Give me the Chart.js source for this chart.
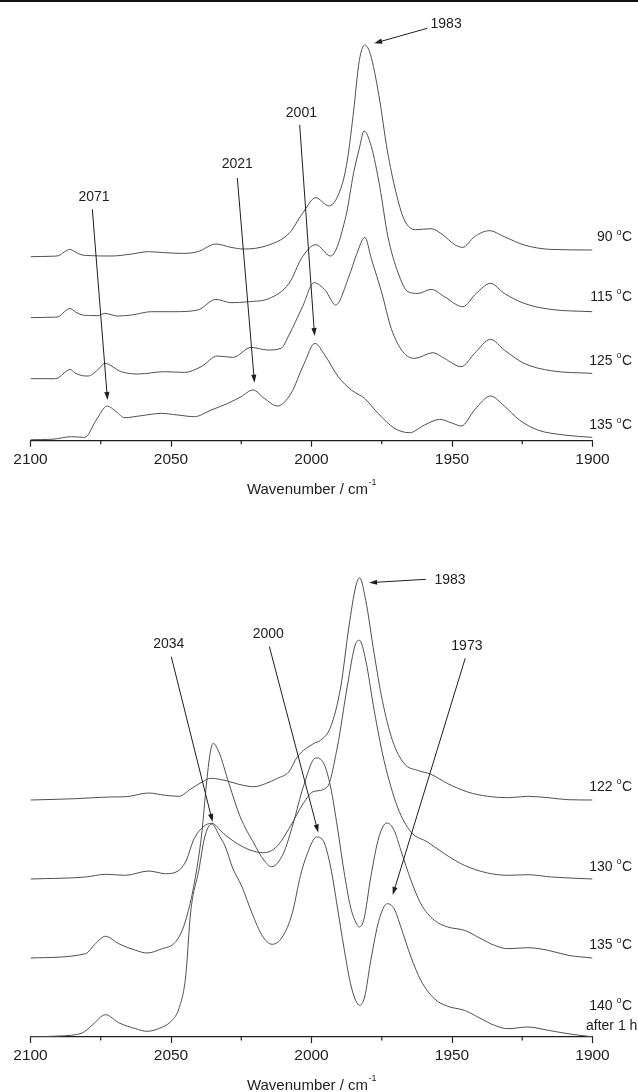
<!DOCTYPE html>
<html>
<head>
<meta charset="utf-8">
<script src="https://cdn.jsdelivr.net/npm/chart.js@4.4.1/dist/chart.umd.min.js"></script>
<style>
  html, body { margin: 0; padding: 0; background: #fff; }
  #page { position: relative; width: 638px; height: 1092px; overflow: hidden; background: #fff; }
  #rule { position: absolute; left: 0; top: 0; width: 638px; height: 2px; background: #111; }
  canvas { position: absolute; left: 0; }
</style>
</head>
<body>
<div id="page">
  <div id="rule"></div>
  <canvas id="upper" width="638" height="546" style="top:0"></canvas>
  <canvas id="lower" width="638" height="546" style="top:546px"></canvas>
</div>
<script>
const FONT = '"Liberation Sans", Arial, Helvetica, sans-serif';
const INK = '#1e1e1e';
const TRACE = '#505050';

// x axis
const xTicks = [2100, 2050, 2000, 1950, 1900];
const minorTicks = [2075, 2025, 1975, 1925];

// ---- upper panel: spectra at 90, 115, 125, 135 C (arbitrary absorbance units)
const upperTemps = ['90', '115', '125', '135'];
const upperOffsets = [184, 123, 62, 1];

const wn90 = [2100, 2092, 2090, 2088, 2086, 2084, 2082, 2080, 2071, 2064, 2058, 2052, 2046, 2040.5, 2034, 2028.6, 2024, 2016, 2008, 2003.2, 1998.5, 1993.8, 1989, 1987, 1985, 1983, 1981, 1979, 1976, 1973, 1970, 1967, 1963, 1957.4, 1953.8, 1949, 1946.2, 1942, 1936.7, 1931.4, 1924.3, 1914.8, 1900];
const abs90 = [0, 0.5, 1, 4.6, 7.3, 4.6, 2, 1.2, 0.7, 2.7, 5, 4, 3.3, 5, 12.7, 9.3, 7.7, 11, 23.3, 43.3, 59, 50.7, 73.3, 101, 146, 196, 211.7, 202, 161, 106, 65, 37, 27, 28, 23, 12, 9.3, 20, 26, 20, 11.7, 7.3, 6.7];

const wn115 = [2100, 2092, 2090, 2088, 2086, 2084, 2082, 2079, 2076, 2073.6, 2069, 2064, 2057, 2049, 2040.5, 2034, 2028.6, 2022.5, 2015, 2008, 2003.2, 1998.5, 1993.2, 1987.8, 1985, 1983, 1981.3, 1978.7, 1975.7, 1972.8, 1969.2, 1965.7, 1962.1, 1957.4, 1952.7, 1946.2, 1941.4, 1936.3, 1931.4, 1924.3, 1914.8, 1900];
const abs115 = [0, 0.5, 1, 5.8, 9.3, 5.8, 3, 2.2, 2, 4.3, 1.7, 2.7, 6, 6, 7.7, 18.3, 15, 16, 19.3, 34.3, 61, 73, 61.7, 101, 145, 169, 186.7, 171, 131, 81, 45, 26, 24.3, 28.3, 21, 11, 24.3, 34.3, 24.3, 14.3, 8.3, 6];

const wn125 = [2100, 2092, 2090, 2088, 2086, 2084, 2081.5, 2079.5, 2076, 2073.6, 2067.7, 2061.8, 2052.3, 2045.2, 2039.3, 2033.4, 2028, 2021.5, 2015.6, 2010.9, 2008, 2003.2, 1999.1, 1995, 1991.4, 1986.7, 1984, 1981, 1978.7, 1975, 1971.6, 1967.5, 1963.3, 1956.8, 1952.7, 1946.7, 1942, 1936.3, 1931.4, 1924.3, 1914.8, 1900];
const abs125 = [0, 0, 1, 5.8, 9.3, 5.5, 3, 2.7, 9, 15.3, 7, 4.7, 7, 6.3, 12, 22.7, 21.3, 31.3, 28.7, 30.3, 43.7, 72, 96, 88, 73.7, 102, 124, 141.3, 120, 86, 50, 27, 20.3, 26, 20.3, 12, 25.3, 39.3, 28.7, 15.3, 8, 5.3];

const wn135 = [2100, 2092, 2085.4, 2080.7, 2076.6, 2072.7, 2069.5, 2066.5, 2060.6, 2053.5, 2047.6, 2041.7, 2035.7, 2029.8, 2025.1, 2020.8, 2016.8, 2012.1, 2007.3, 2002.6, 1998.8, 1995.3, 1990.5, 1985.8, 1981.1, 1976.3, 1970.4, 1965.1, 1959.8, 1954.4, 1949.7, 1946.7, 1942, 1936.3, 1931.4, 1926, 1919.5, 1910.1, 1900];
const abs135 = [0, 0.5, 3, 2.3, 19.7, 33.7, 28, 22, 24, 26.3, 24.7, 23, 29.7, 36.3, 43, 49.7, 41.3, 33.7, 46.3, 76.3, 96.3, 84.7, 63, 49.7, 41.3, 26.3, 11.3, 7, 14.7, 20.3, 16.3, 13.7, 29.7, 43.7, 33.7, 19.7, 9.7, 4.7, 2.3];

const upperLabelLevels = [203.4, 144, 80, 15.2];
const upperNotes = [
  { text: '1983', label: [1952.1, 416.4], tail: [1958.8, 412.4], head: [1977.7, 397.4] },
  { text: '2001', label: [2003.6, 327.7], tail: [2004.2, 315.7], head: [1998.9, 104.7] },
  { text: '2021', label: [2026.4, 276.7], tail: [2026.4, 262.7], head: [2020.3, 58] },
  { text: '2071', label: [2077.4, 244], tail: [2078, 231.4], head: [2072.6, 40.7] }
];

// ---- lower panel: spectra at 122, 130, 135, 140 C
const lowerTemps = ['122', '130', '135', '140'];
const lowerOffsets = [237, 158, 79, 0];

const wn122 = [2100, 2084, 2072, 2066, 2058, 2052, 2047.2, 2043, 2038.9, 2035.9, 2030, 2025.9, 2020.5, 2016.4, 2012.1, 2008.1, 2005, 1999.1, 1996.8, 1993.2, 1989.6, 1986.7, 1984.3, 1982.9, 1980.7, 1977.7, 1974.8, 1971.2, 1967, 1962.3, 1957.5, 1951.5, 1944.4, 1937.3, 1930.1, 1923, 1915.8, 1908.7, 1900];
const abs122 = [0, 1.3, 3, 3.3, 7, 4.7, 3.7, 11, 18, 21.7, 19, 15.7, 13.3, 16.3, 21.7, 28, 43.3, 56.7, 59.7, 73, 113, 173, 213, 222.3, 199.7, 146.3, 99.7, 59.7, 36.3, 29.7, 25.7, 16.3, 8, 3.7, 2.3, 3.7, 2.3, 0.3, 0];

const wn130 = [2100, 2080.4, 2073.3, 2066.2, 2057.9, 2052, 2047.5, 2044.5, 2042, 2038.5, 2035.5, 2031.4, 2026.6, 2021.9, 2017.1, 2012.4, 2007.6, 2002.9, 1999.4, 1994.4, 1990.8, 1987.3, 1984.3, 1982.9, 1980.7, 1977.7, 1974.2, 1969.4, 1964.6, 1958.7, 1952.7, 1945.6, 1937.3, 1930.1, 1923, 1914.6, 1900];
const abs130 = [0, 2, 4.7, 3.7, 8, 5.3, 8, 19, 39, 52.3, 55.7, 45.7, 35.7, 29, 26.3, 32.3, 52.3, 75.7, 87.3, 92, 132, 192, 235.3, 238.7, 218.7, 168.7, 118.7, 72, 47, 37, 25.3, 13.7, 6, 3.7, 4.3, 2, 0];

const wn135b = [2100, 2080.4, 2076.9, 2073.3, 2068.6, 2062.6, 2058.5, 2053.1, 2049, 2046, 2043.5, 2041, 2039, 2037.5, 2036, 2035, 2033, 2029.4, 2025.4, 2020.5, 2017, 2014.2, 2010, 2006.5, 2002.9, 1998.5, 1995.6, 1993.2, 1990.8, 1988.5, 1986.1, 1984.3, 1982.9, 1981.3, 1978.9, 1976, 1973.2, 1970.6, 1968.2, 1964.6, 1961.1, 1956.3, 1951.5, 1945.6, 1940.8, 1934.9, 1930.1, 1923, 1915.8, 1908.7, 1900];
const abs135b = [0, 4.3, 14.3, 21.7, 14.3, 7.7, 5, 9.3, 14.3, 27.7, 51, 86, 126, 171, 206, 214.7, 206.3, 174.7, 141.3, 114.7, 98, 91.3, 104.7, 134.7, 171.3, 200, 194.3, 171, 131, 87.7, 51, 36, 31, 39.3, 81, 121, 135, 127.7, 107.7, 77.7, 54.3, 37.7, 31, 27.7, 21, 12.7, 9.3, 10.3, 7.7, 2.7, 0];

const wn140 = [2100, 2090, 2081.6, 2078.1, 2073.3, 2068.6, 2062.6, 2058.5, 2053.1, 2049.6, 2047.2, 2044.8, 2043, 2040.1, 2038, 2035.5, 2032.6, 2030.6, 2028.2, 2024.7, 2021.1, 2017.6, 2014, 2010.4, 2006.9, 2003.9, 2001.5, 1998.2, 1995.6, 1993.2, 1990.8, 1988.5, 1986.1, 1984.3, 1982.9, 1981.1, 1978.9, 1976, 1973, 1970.6, 1968.2, 1964.6, 1961.1, 1956.3, 1951.5, 1945.6, 1940.8, 1934.9, 1930.1, 1923, 1915.8, 1908.7, 1901.5, 1900];
const abs140 = [0, 1, 4, 11.7, 22.3, 14.3, 8.3, 5.7, 10, 16.7, 28.3, 60, 125, 166.7, 200, 213, 200.3, 190, 170, 150, 123.3, 101.7, 92.7, 100, 123.3, 161.7, 183.3, 200, 195, 170, 130, 90, 53.3, 36.7, 31.7, 40, 76.7, 116.7, 133.3, 128.3, 110, 80, 56.7, 38.3, 30.7, 26.7, 20, 11.7, 8.3, 10, 6.7, 3.3, 0.7, 0.3];

const lowerLabelLevels = [250.3, 170, 91.5, 31];
const lowerNotes = [
  { text: '1983', label: [1950.7, 457], tail: [1959.3, 457.7], head: [1979.5, 454.3] },
  { text: '2034', label: [2050.8, 392.8], tail: [2049.9, 380.3], head: [2035.2, 215] },
  { text: '2000', label: [2015.4, 403], tail: [2015, 390.5], head: [1997.6, 204.5] },
  { text: '1973', label: [1944.7, 391], tail: [1945.3, 378.7], head: [1971.1, 142] }
];

Chart.defaults.font.family = FONT;
Chart.defaults.color = INK;

function toPoints(wn, abs, offset) {
  return wn.map((w, i) => ({ x: w, y: abs[i] + offset }));
}

function drawArrow(ctx, x1, y1, x2, y2) {
  const a = Math.atan2(y2 - y1, x2 - x1);
  const len = 8, half = 2.6;
  ctx.beginPath();
  ctx.moveTo(x1, y1);
  ctx.lineTo(x2 - Math.cos(a) * len * 0.7, y2 - Math.sin(a) * len * 0.7);
  ctx.stroke();
  ctx.beginPath();
  ctx.moveTo(x2, y2);
  ctx.lineTo(x2 - len * Math.cos(a) + half * Math.sin(a), y2 - len * Math.sin(a) - half * Math.cos(a));
  ctx.lineTo(x2 - len * Math.cos(a) - half * Math.sin(a), y2 - len * Math.sin(a) + half * Math.cos(a));
  ctx.closePath();
  ctx.fill();
}

// "90 °C" with a raised small o, right aligned
function tempLabel(ctx, num, xRight, yMid) {
  const big = '14px ' + FONT, small = '9px ' + FONT;
  ctx.font = big;
  const w1 = ctx.measureText(num + ' ').width;
  const w3 = ctx.measureText('C').width;
  ctx.font = small;
  const w2 = ctx.measureText('o').width + 0.5;
  const x0 = xRight - (w1 + w2 + w3);
  ctx.textAlign = 'left';
  ctx.textBaseline = 'middle';
  ctx.font = big;
  ctx.fillText(num + ' ', x0, yMid);
  ctx.font = small;
  ctx.fillText('o', x0 + w1, yMid - 5);
  ctx.font = big;
  ctx.fillText('C', x0 + w1 + w2, yMid);
}

function panelDecor(panel) {
  return {
    id: 'panelDecor',
    afterDraw(chart) {
      const { ctx, chartArea: area } = chart;
      const x = chart.scales.x, y = chart.scales.y;
      ctx.save();

      // minor ticks
      ctx.strokeStyle = INK;
      ctx.lineWidth = 1.2;
      minorTicks.forEach(v => {
        const px = x.getPixelForValue(v);
        ctx.beginPath();
        ctx.moveTo(px, area.bottom);
        ctx.lineTo(px, area.bottom + 3.5);
        ctx.stroke();
      });

      // axis title with superscript -1
      const main = 'Wavenumber / cm', sup = '-1';
      ctx.font = '15px ' + FONT;
      const wMain = ctx.measureText(main).width;
      ctx.font = '9px ' + FONT;
      const wSup = ctx.measureText(sup).width;
      const tx = (area.left + area.right) / 2 - (wMain + wSup) / 2;
      const ty = area.bottom + 49;
      ctx.fillStyle = INK;
      ctx.textAlign = 'left';
      ctx.textBaseline = 'middle';
      ctx.font = '15px ' + FONT;
      ctx.fillText(main, tx, ty);
      ctx.font = '9px ' + FONT;
      ctx.fillText(sup, tx + wMain + 0.5, ty - 7);

      // peak annotations
      ctx.strokeStyle = INK;
      ctx.fillStyle = INK;
      ctx.lineWidth = 1;
      panel.notes.forEach(n => {
        ctx.font = '14px ' + FONT;
        ctx.textAlign = 'center';
        ctx.textBaseline = 'middle';
        ctx.fillText(n.text, x.getPixelForValue(n.label[0]), y.getPixelForValue(n.label[1]));
        drawArrow(ctx,
          x.getPixelForValue(n.tail[0]), y.getPixelForValue(n.tail[1]),
          x.getPixelForValue(n.head[0]), y.getPixelForValue(n.head[1]));
      });

      // temperature labels
      panel.temps.forEach((t, i) => tempLabel(ctx, t, 632, y.getPixelForValue(panel.levels[i])));
      if (panel.note) {
        ctx.font = '14px ' + FONT;
        ctx.textAlign = 'left';
        ctx.textBaseline = 'middle';
        ctx.fillText(panel.note.text, 586, y.getPixelForValue(panel.note.level));
      }
      ctx.restore();
    }
  };
}

function makePanel(canvasId, panel) {
  const canvasEl = document.getElementById(canvasId);
  const datasets = panel.series.map((s, i) => ({
    label: panel.temps[i] + ' °C',
    data: toPoints(s[0], s[1], panel.offsets[i]),
    borderColor: TRACE,
    borderWidth: 1,
    pointRadius: 0,
    fill: false,
    cubicInterpolationMode: 'monotone'
  }));

  return new Chart(canvasEl.getContext('2d'), {
    type: 'line',
    data: { datasets },
    options: {
      responsive: false,
      animation: false,
      devicePixelRatio: 1,
      layout: { padding: { left: 30.5, right: 45.5, top: 0, bottom: panel.padBottom } },
      plugins: { legend: { display: false }, tooltip: { enabled: false } },
      scales: {
        x: {
          type: 'linear',
          min: 1900,
          max: 2100,
          reverse: true,
          afterFit: (scale) => { scale.height = 30; },
          afterBuildTicks: (scale) => { scale.ticks = xTicks.map(v => ({ value: v })); },
          border: { display: true, color: INK, width: 1.2 },
          grid: { drawOnChartArea: false, drawTicks: true, tickLength: 6, color: INK, tickWidth: 1.2 },
          ticks: {
            color: INK,
            font: { family: FONT, size: 15.5 },
            padding: 3.5,
            maxRotation: 0,
            autoSkip: false,
            callback: (v) => String(v)
          }
        },
        y: { display: false, min: 0, max: panel.yMax }
      }
    },
    plugins: [panelDecor(panel)]
  });
}

makePanel('upper', {
  temps: upperTemps,
  offsets: upperOffsets,
  series: [[wn90, abs90], [wn115, abs115], [wn125, abs125], [wn135, abs135]],
  levels: upperLabelLevels,
  notes: upperNotes,
  yMax: 440.7,
  padBottom: 75.3
});

makePanel('lower', {
  temps: lowerTemps,
  offsets: lowerOffsets,
  series: [[wn122, abs122], [wn130, abs130], [wn135b, abs135b], [wn140, abs140]],
  levels: lowerLabelLevels,
  notes: lowerNotes,
  note: { text: 'after 1 h', level: 10.4 },
  yMax: 491,
  padBottom: 25
});
</script>
</body>
</html>
